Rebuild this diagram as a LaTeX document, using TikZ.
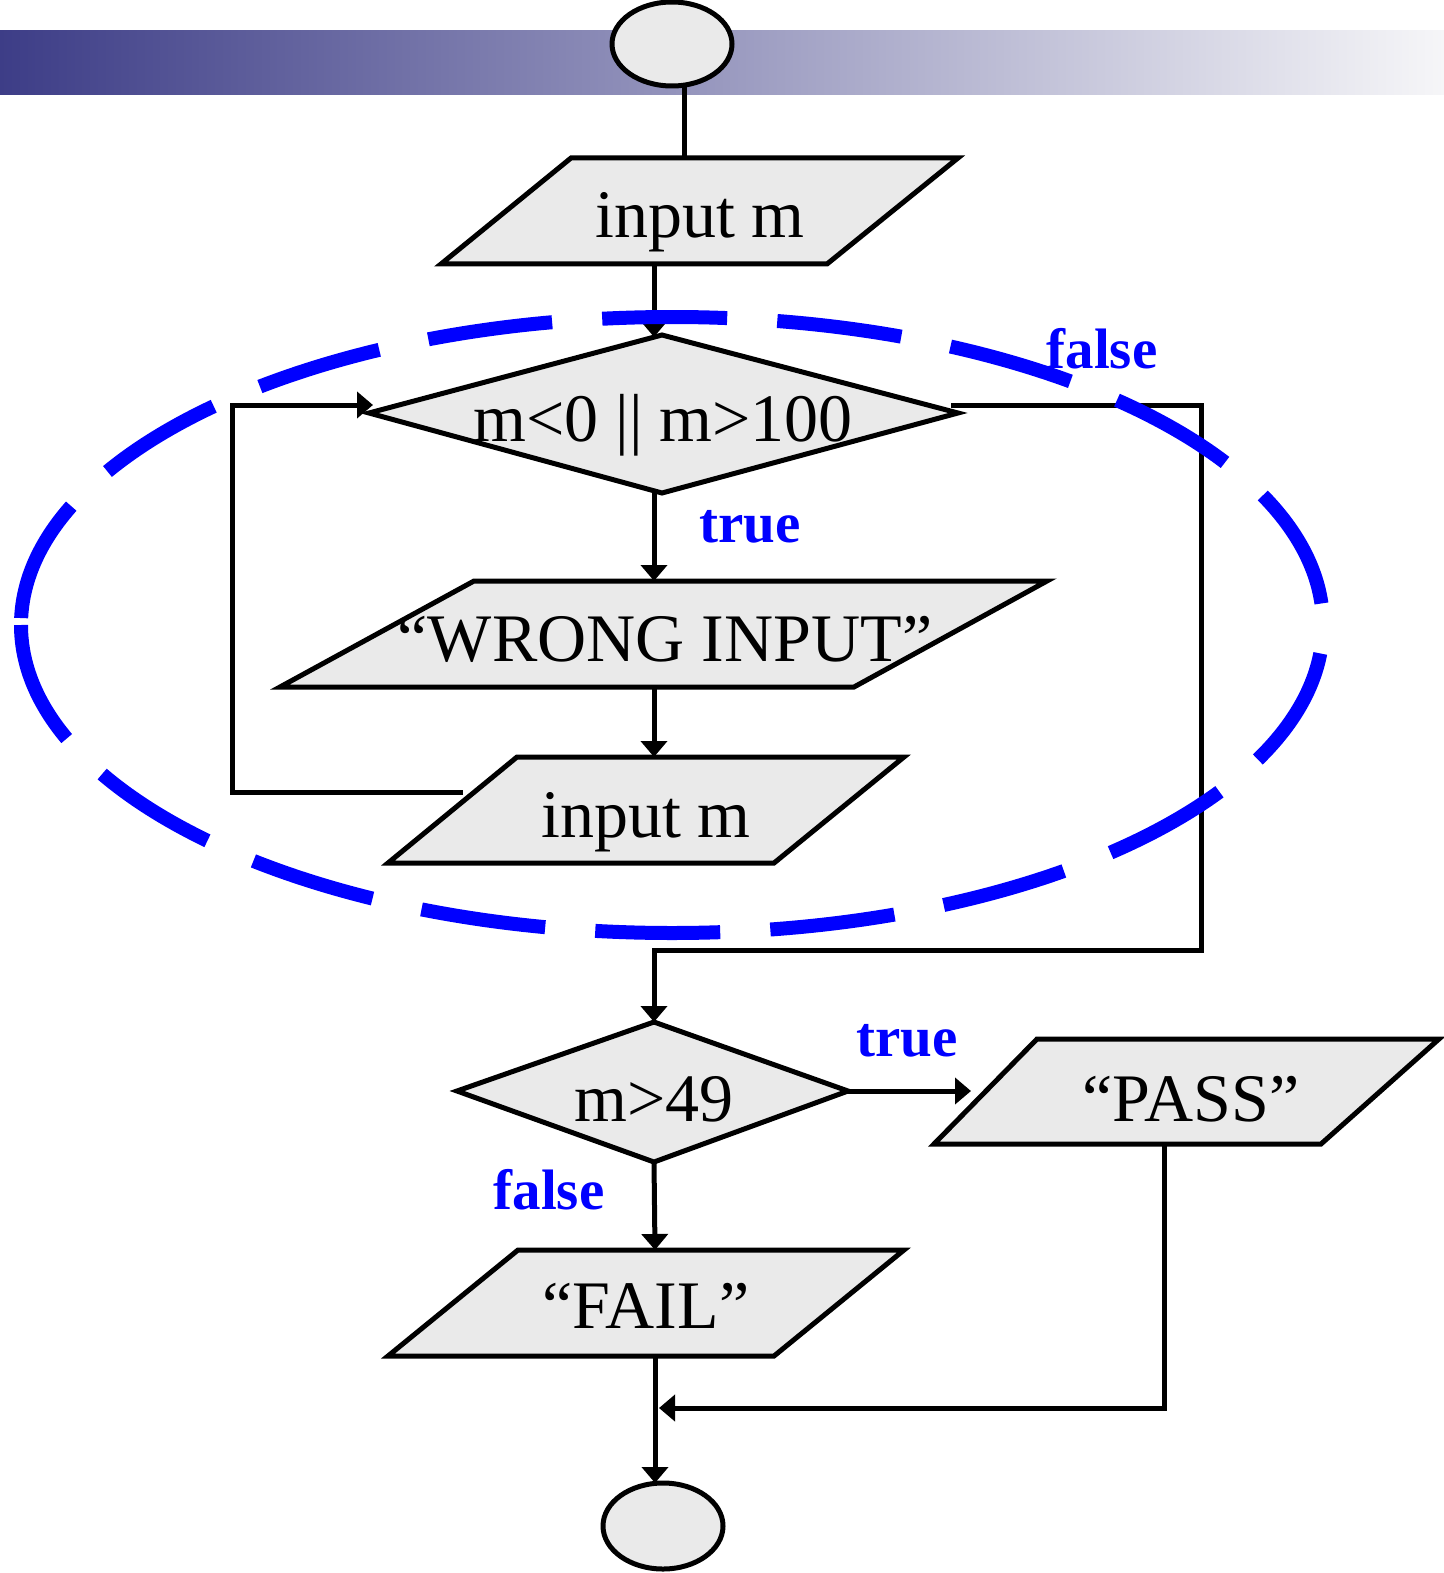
\documentclass[tikz,border=0pt]{standalone}
\usepackage{fontspec}
\setmainfont{Liberation Serif}
\usetikzlibrary{arrows.meta}
\definecolor{boxgray}{RGB}{234,234,234}
\definecolor{barleft}{RGB}{61,61,135}
\definecolor{barright}{RGB}{246,246,248}
\begin{document}
\begin{tikzpicture}[x=0.5pt,y=-0.5pt,
  shapebox/.style={draw=black, line width=2.5pt, fill=boxgray, line join=miter},
  conn/.style={draw=black, line width=2.5pt},
  arr/.style={conn, -{Triangle[length=8pt,width=13pt]}},
  txt/.style={anchor=base, font=\fontsize{34}{40}\selectfont, inner sep=0pt},
  lbl/.style={anchor=base, font=\fontsize{28.5}{34}\selectfont\bfseries, text=blue, inner sep=0pt},
  loopring/.style={draw=blue, line width=7pt, dash pattern=on 62.5pt off 25.1pt}]
\useasboundingbox (0,0) rectangle (1444,1573);
% title bar
\shade[left color=barleft, right color=barright] (0,31) rectangle (1444,95);

% start terminal
\draw[shapebox] (672,44) ellipse [x radius=60, y radius=42];
\coordinate (start-b) at (684,85);

% input m (1)
\draw[shapebox] (571,158) -- (958,158) -- (827,264) -- (441,264) -- cycle;
\node[txt] (in1) at (700,238) {input m};
\coordinate (in1-t) at (684,158);
\coordinate (in1-b) at (654,264);

% decision 1
\draw[shapebox] (369,413) -- (662,335) -- (958,413) -- (662,493) -- cycle;
\node[txt] (d1) at (663,441) {m<0 || m>100};
\coordinate (d1-t) at (654,337);
\coordinate (d1-b) at (654,493);
\coordinate (d1-l) at (373,405);
\coordinate (d1-r) at (951,405);

% wrong input
\draw[shapebox] (474,581) -- (1047,581) -- (854,687) -- (280,687) -- cycle;
\node[txt] (wrong) at (665,661) {“WRONG INPUT”};
\coordinate (wrong-t) at (654,581);
\coordinate (wrong-b) at (654,687);

% input m (2)
\draw[shapebox] (517,757) -- (904,757) -- (774,863) -- (388,863) -- cycle;
\node[txt] (in2) at (646,837) {input m};
\coordinate (in2-t) at (654,757);
\coordinate (in2-l) at (463,792);

% decision 2
\draw[shapebox] (457,1091) -- (654,1022) -- (848,1091) -- (654,1162) -- cycle;
\node[txt] (d2) at (654,1121) {m>49};
\coordinate (d2-t) at (654,1022);
\coordinate (d2-r) at (848,1091);
\coordinate (d2-b) at (654,1162);

% pass
\draw[shapebox] (1037,1039) -- (1439,1039) -- (1321,1144) -- (934,1144) -- cycle;
\node[txt] (pass) at (1191,1121) {“PASS”};
\coordinate (pass-in) at (971,1091);
\coordinate (pass-b) at (1164,1144);

% fail
\draw[shapebox] (518,1250) -- (904,1250) -- (774,1356) -- (388,1356) -- cycle;
\node[txt] (fail) at (646,1328) {“FAIL”};
\coordinate (fail-t) at (655,1250);
\coordinate (fail-b) at (655,1356);

% end terminal
\draw[shapebox] (663,1526) ellipse [x radius=60, y radius=43];
\coordinate (end-t) at (655,1483);
\coordinate (merge) at (659,1408);

% connectors
\draw[conn] (start-b) -- (in1-t);
\draw[arr] (in1-b) -- (d1-t);
\draw[arr] (d1-b) -- (wrong-t);
\draw[arr] (wrong-b) -- (in2-t);
\draw[arr] (in2-l) -| (232,405) -- (d1-l);
\draw[arr] (d1-r) -| (1201,950) -| (d2-t);
\draw[arr] (d2-r) -- (pass-in);
\draw[arr] (d2-b) -- (fail-t);
\draw[arr] (fail-b) -- (end-t);
\draw[arr] (pass-b) |- (merge);

% labels
\node[lbl] (t1) at (750,542) {true};
\node[lbl] (f1) at (1102,368) {false};
\node[lbl] (t2) at (907,1056) {true};
\node[lbl] (f2) at (549,1209) {false};

% dashed loop ring
\draw[loopring] (21,625) arc[start angle=180, end angle=-180, x radius=651, y radius=308];
\end{tikzpicture}
\end{document}
